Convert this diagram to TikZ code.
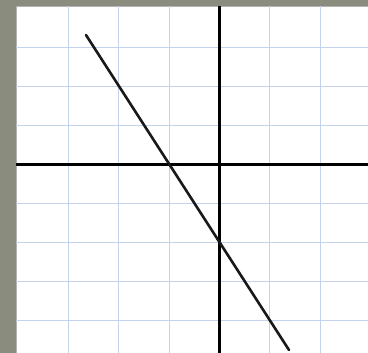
\documentclass[tikz,border=0pt]{standalone}
\begin{document}
\begin{tikzpicture}[x=1pt,y=-1pt,
  gridline/.style={draw=gridblue,line width=0.9pt},
  axisline/.style={draw=black,line width=2.2pt},
  graphline/.style={draw=black!90,line width=2.6pt,line cap=round}]
\definecolor{bggray}{RGB}{138,140,126}
\definecolor{gridblue}{RGB}{196,211,236}
\useasboundingbox (0,0) rectangle (368,353);
\fill[bggray] (0,0) rectangle (368,353);
\fill[white] (16,6) rectangle (368,353);
\draw[gray!60,line width=0.6pt] (16,353) -- (16,6) -- (368,6);
\foreach \k in {-3,...,2} \draw[gridline] (219.5+50.4*\k,6) -- (219.5+50.4*\k,353);
\foreach \k in {-3,...,4} \draw[gridline] (16,164.5+39.1*\k) -- (368,164.5+39.1*\k);
\coordinate (xl) at (16,164.5);
\coordinate (xr) at (368,164.5);
\coordinate (yt) at (219.5,6);
\coordinate (yb) at (219.5,353);
\draw[axisline] (xl) -- (xr);
\draw[axisline] (yt) -- (yb);
\coordinate (p) at (86,35);
\coordinate (q) at (289,350);
\draw[graphline] (p) -- (q);
\end{tikzpicture}
\end{document}
